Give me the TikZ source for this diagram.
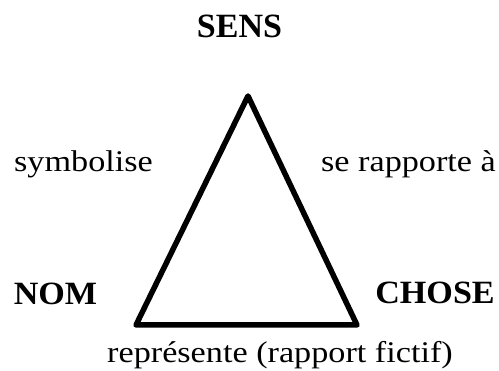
\documentclass[tikz,border=0pt]{standalone}
\usepackage{fontspec}
\usepackage{graphicx}
\setmainfont{Liberation Serif}
\newcommand{\regtxt}[1]{\scalebox{1.14}[1]{\fontsize{30}{36}\selectfont #1}}
\newcommand{\boldtxt}[1]{\scalebox{1.05}[1]{\fontsize{32.5}{38}\selectfont\bfseries #1}}
\begin{document}
\begin{tikzpicture}[x=1pt,y=-1pt,
  lbl/.style={inner sep=0pt, anchor=base},
  side/.style={line width=5.5pt, line join=round}]
\useasboundingbox (0,0) rectangle (499,371);
\coordinate (S) at (248,96);
\coordinate (N) at (136,325);
\coordinate (C) at (357,325);
\draw[side] (S) -- (N) -- (C) -- cycle;
\node[lbl] (sens) at (239.5,38) {\fontsize{34}{40}\selectfont\bfseries SENS};
\node[lbl] (sym) at (83.5,172) {\regtxt{symbolise}};
\node[lbl] (rap) at (408.5,172) {\regtxt{se rapporte à}};
\node[lbl] (nom) at (55.5,305) {\boldtxt{NOM}};
\node[lbl] (chose) at (435,304) {\boldtxt{CHOSE}};
\node[lbl] (rep) at (280,363) {\regtxt{représente (rapport fictif)}};
\end{tikzpicture}
\end{document}
